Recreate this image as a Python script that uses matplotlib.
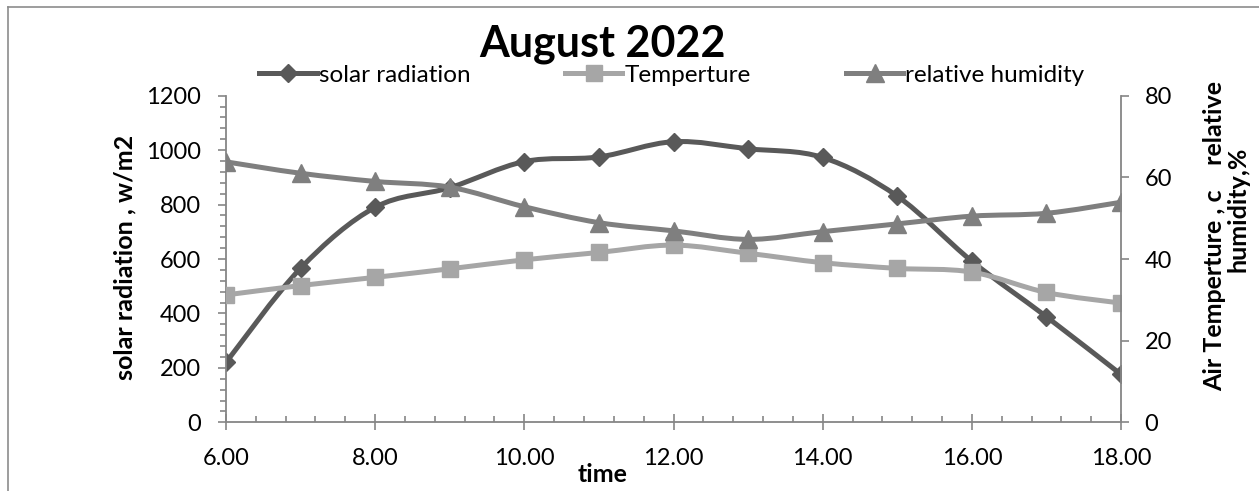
import numpy as np
import matplotlib
matplotlib.use("Agg")
import matplotlib.pyplot as plt
from matplotlib.path import Path
from matplotlib.patches import PathPatch
from matplotlib.lines import Line2D
from matplotlib.ticker import MultipleLocator

# Hourly measurements, August 2022
hours = [6, 7, 8, 9, 10, 11, 12, 13, 14, 15, 16, 17, 18]
solar_radiation = [220, 566, 790, 862, 958, 975, 1031, 1005, 973, 831, 592, 388, 176]
temperature = [31.2, 33.5, 35.5, 37.6, 39.8, 41.6, 43.4, 41.4, 39.1, 37.7, 36.8, 31.8, 29.2]
humidity = [63.8, 61.0, 59.0, 57.6, 52.8, 48.9, 46.9, 44.8, 46.7, 48.6, 50.5, 51.2, 53.9]

x_ticks = [6, 8, 10, 12, 14, 16, 18]
x_tick_labels = ["6.00", "8.00", "10.00", "12.00", "14.00", "16.00", "18.00"]
left_ticks = [0, 200, 400, 600, 800, 1000, 1200]
right_ticks = [0, 20, 40, 60, 80]

series_labels = ["solar radiation", "Temperture", "relative humidity"]

C_SOLAR = "#595959"
C_TEMP = "#A6A6A6"
C_HUM = "#7F7F7F"
C_AXIS = "#868686"

plt.rcParams["font.family"] = ["Lato", "DejaVu Sans"]
FS_TICK = 17
FS_LABEL = 18
FS_LEGEND = 17.5


def smooth_path(x, y):
    """Catmull-Rom curve through the points, expressed as cubic Bezier segments."""
    pts = np.column_stack([x, y]).astype(float)
    n = len(pts)
    verts = [pts[0]]
    codes = [Path.MOVETO]
    for i in range(n - 1):
        p0 = pts[i - 1] if i > 0 else pts[i]
        p1 = pts[i]
        p2 = pts[i + 1]
        p3 = pts[i + 2] if i + 2 < n else pts[i + 1]
        c1 = p1 + (p2 - p0) / 6.0
        c2 = p2 - (p3 - p1) / 6.0
        verts += [c1, c2, p2]
        codes += [Path.CURVE4] * 3
    return Path(verts, codes)


def draw_series(ax, x, y, color, marker, ms, lw=3.6):
    ax.add_patch(PathPatch(smooth_path(x, y), facecolor="none", edgecolor=color,
                           lw=lw, capstyle="round", joinstyle="round",
                           transform=ax.transData))
    ax.plot(x, y, linestyle="none", marker=marker, ms=ms, color=color,
            markeredgecolor=color)


W, H = 1259, 491
fig = plt.figure(figsize=(W / 100, H / 100), dpi=100)
ax = fig.add_axes([226 / W, 1 - 422.3 / H, (1121 - 226) / W, (422.3 - 95.7) / H])
ax2 = ax.twinx()

draw_series(ax, hours, solar_radiation, C_SOLAR, "D", 9)
draw_series(ax2, hours, temperature, C_TEMP, "s", 12)
draw_series(ax2, hours, humidity, C_HUM, "^", 13)

ax.set_xlim(6, 18)
ax.set_ylim(0, 1200)
ax2.set_ylim(0, 80)

ax.set_xticks(x_ticks)
ax.set_xticklabels(x_tick_labels)
ax.xaxis.set_minor_locator(MultipleLocator(0.4))
ax.set_yticks(left_ticks)
ax.yaxis.set_minor_locator(MultipleLocator(40))
ax2.set_yticks(right_ticks)

for a in (ax, ax2):
    a.spines["top"].set_visible(False)
    for s in a.spines.values():
        s.set_color(C_AXIS)
        s.set_linewidth(1.3)
ax.spines["right"].set_visible(False)
ax2.spines["left"].set_visible(False)
ax2.spines["bottom"].set_visible(False)

ax.tick_params(axis="x", which="major", direction="inout", length=11, width=1.2,
               color=C_AXIS, labelsize=FS_TICK, pad=13)
ax.tick_params(axis="x", which="minor", direction="in", length=4, width=1.2, color=C_AXIS)
ax.tick_params(axis="y", which="major", direction="out", length=6, width=1.2,
               color=C_AXIS, labelsize=FS_TICK, pad=12)
ax.tick_params(axis="y", which="minor", direction="out", length=4, width=1.2, color=C_AXIS)
ax2.tick_params(axis="y", which="major", direction="out", length=6, width=1.2,
                color=C_AXIS, labelsize=FS_TICK, pad=11)
ax2.tick_params(axis="y", which="minor", length=0)

# Titles and axis labels
fig.text(602 / W, 1 - 57 / H, "August 2022", ha="center", va="baseline",
         fontsize=31, fontweight="bold")
fig.text(125 / W, 1 - 257 / H, "solar radiation , w/m2", rotation=90,
         ha="center", va="center", fontsize=FS_LABEL, fontweight="bold")
fig.text(1215 / W, 1 - 236 / H, "Air Temperture , c    relative", rotation=90,
         ha="center", va="center", fontsize=FS_LABEL, fontweight="bold")
fig.text(1238 / W, 1 - 209 / H, "humidity,%", rotation=90,
         ha="center", va="center", fontsize=FS_LABEL, fontweight="bold")
fig.text(603 / W, 1 - 475 / H, "time", ha="center", va="center",
         fontsize=FS_LABEL, fontweight="bold")

# Legend
handles = [
    Line2D([], [], color=C_SOLAR, lw=3.6, marker="D", ms=9),
    Line2D([], [], color=C_TEMP, lw=3.6, marker="s", ms=12),
    Line2D([], [], color=C_HUM, lw=3.6, marker="^", ms=13),
]
fig.legend(handles, series_labels, loc="center", bbox_to_anchor=(672 / W, 1 - 75 / H),
           ncol=3, frameon=False, fontsize=FS_LEGEND, handlelength=2.35,
           handletextpad=0.1, columnspacing=3.9, borderpad=0)

# Chart-area border (top and left edges visible)
fig.add_artist(Line2D([8 / W, 8 / W], [0, 1 - 7 / H], transform=fig.transFigure,
                      color="#8C8C8C", lw=1.2))
fig.add_artist(Line2D([8 / W, 1], [1 - 7 / H, 1 - 7 / H], transform=fig.transFigure,
                      color="#8C8C8C", lw=1.2))

fig.savefig("out.png", dpi=100)
